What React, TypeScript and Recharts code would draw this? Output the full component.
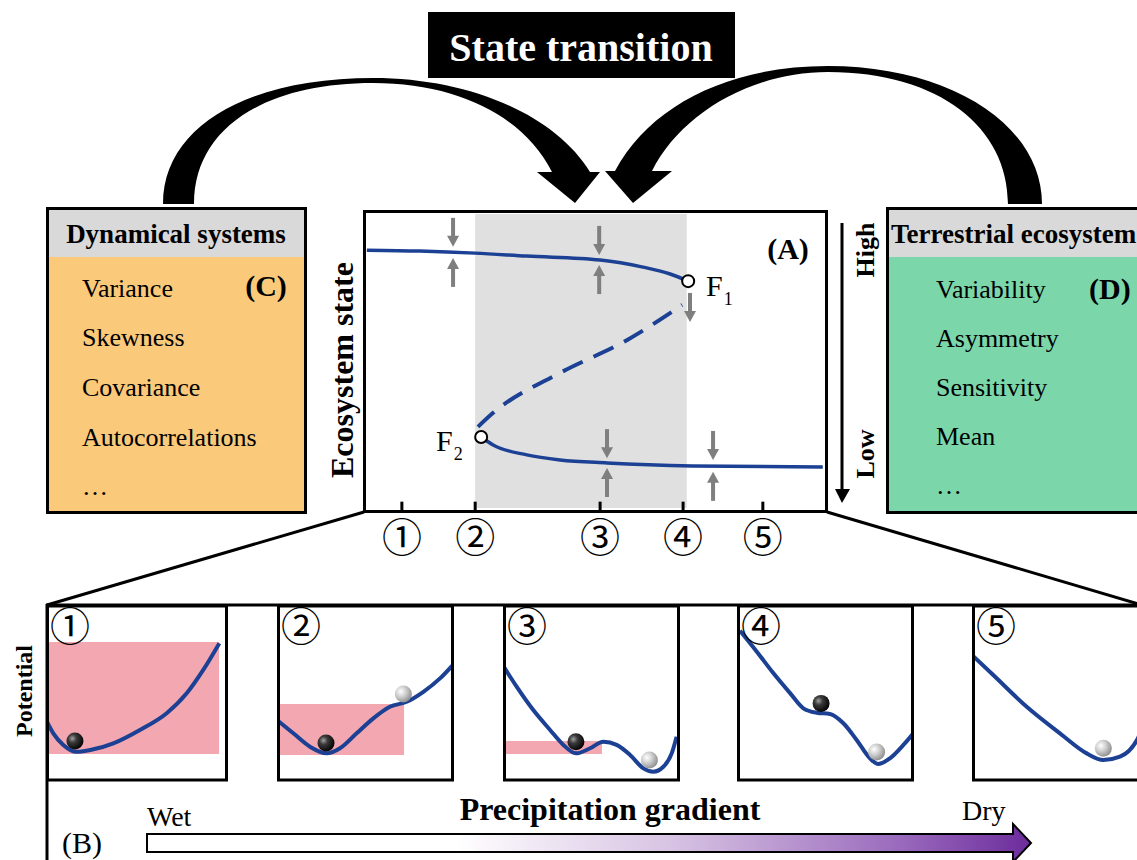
import React from 'react';
import {
  ComposedChart,
  Line,
  XAxis,
  YAxis,
  ReferenceArea,
  ReferenceDot,
  ReferenceLine,
  Scatter,
} from 'recharts';

const FONT = "'Liberation Serif','Times New Roman',serif";
const CIRCLED_FONT = "'Liberation Serif','Noto Sans CJK JP',serif";
const BLUE = '#1c4194';

// ---------- Panel (A): bifurcation diagram ----------
const upperBranch = [
  { x: 0.4, y: 87.2 },
  { x: 11.9, y: 86.9 },
  { x: 23.9, y: 86.2 },
  { x: 35.1, y: 85.2 },
  { x: 51.0, y: 83.9 },
  { x: 60.3, y: 81.5 },
  { x: 66.2, y: 79.2 },
  { x: 70.1, y: 76.8 },
];
const unstableBranch = [
  { x: 24.5, y: 27.9 },
  { x: 27.8, y: 32.6 },
  { x: 42.3, y: 46.0 },
  { x: 56.8, y: 57.0 },
  { x: 68.8, y: 68.8 },
];
const lowerBranch = [
  { x: 25.2, y: 24.5 },
  { x: 27.8, y: 21.8 },
  { x: 35.1, y: 18.5 },
  { x: 42.3, y: 16.8 },
  { x: 52.5, y: 15.8 },
  { x: 71.1, y: 14.8 },
  { x: 99.3, y: 14.4 },
];
const bistableRange = [23.9, 69.8];
const foldPoints = [
  { x: 70.1, y: 76.8, name: 'F1' },
  { x: 25.2, y: 24.5, name: 'F2' },
];
const stabilityArrows = [
  { x: 19.1, y: 88.3, dir: 'down' },
  { x: 19.1, y: 84.6, dir: 'up' },
  { x: 50.8, y: 85.6, dir: 'down' },
  { x: 50.8, y: 82.2, dir: 'up' },
  { x: 70.5, y: 63.1, dir: 'down' },
  { x: 52.5, y: 17.4, dir: 'down' },
  { x: 52.5, y: 14.1, dir: 'up' },
  { x: 75.5, y: 16.8, dir: 'down' },
  { x: 75.5, y: 12.8, dir: 'up' },
];
const stateTicks = [8, 23.9, 51, 69, 86.3];
const stateTickLabels = ['①', '②', '③', '④', '⑤'];

// ---------- Panel (C) and (D) ----------
const dynamicalItems = ['Variance', 'Skewness', 'Covariance', 'Autocorrelations', '…'];
const terrestrialItems = ['Variability', 'Asymmetry', 'Sensitivity', 'Mean', '…'];

// ---------- Panel (B): potential landscapes ----------
const panel1Curve = [
  { x: 0, y: 34.7 }, { x: 4.0, y: 27.1 }, { x: 9.5, y: 20.5 }, { x: 16.8, y: 16.6 },
  { x: 26.0, y: 18.0 }, { x: 37.0, y: 21.4 }, { x: 51.6, y: 29.0 }, { x: 66.3, y: 38.5 },
  { x: 77.3, y: 49.8 }, { x: 86.4, y: 63.1 }, { x: 95.2, y: 78.2 },
];
const panel1Dark = [{ x: 15.9, y: 22.7 }];
const panel1Light: { x: number; y: number }[] = [];
const panel1Basin = [1.1, 95.1, 15.3, 79.0];

const panel2Curve = [
  { x: 0.7, y: 34.1 }, { x: 9.2, y: 27.1 }, { x: 18.6, y: 19.5 }, { x: 28.1, y: 15.7 },
  { x: 35.6, y: 18.6 }, { x: 45.0, y: 27.1 }, { x: 54.4, y: 35.6 }, { x: 63.8, y: 42.2 },
  { x: 73.3, y: 45.0 }, { x: 82.7, y: 50.7 }, { x: 92.1, y: 58.3 }, { x: 99.3, y: 65.9 },
];
const panel2Dark = [{ x: 27.7, y: 21.6 }];
const panel2Light = [{ x: 71.4, y: 49.4 }];
const panel2Basin = [1.1, 71.8, 14.8, 43.8];

const panel3Curve = [
  { x: 0.2, y: 65.3 }, { x: 7.7, y: 53.6 }, { x: 17.1, y: 40.3 }, { x: 26.6, y: 29.0 },
  { x: 34.1, y: 20.5 }, { x: 41.2, y: 15.7 }, { x: 49.2, y: 18.6 }, { x: 56.7, y: 22.3 },
  { x: 64.2, y: 20.5 }, { x: 71.8, y: 14.8 }, { x: 79.3, y: 7.2 }, { x: 84.9, y: 5.3 },
  { x: 90.6, y: 8.1 }, { x: 95.3, y: 15.7 }, { x: 98.1, y: 25.2 },
];
const panel3Dark = [{ x: 41.2, y: 22.3 }];
const panel3Light = [{ x: 82.7, y: 11.9 }];
const panel3Basin = [1.7, 55.9, 15.3, 22.7];

const panel4Curve = [
  { x: 1.7, y: 85.4 }, { x: 11.2, y: 73.5 }, { x: 20.6, y: 61.2 }, { x: 30.1, y: 49.8 },
  { x: 37.5, y: 41.3 }, { x: 45.0, y: 38.8 }, { x: 52.5, y: 38.1 }, { x: 60.1, y: 32.8 },
  { x: 67.6, y: 23.3 }, { x: 75.1, y: 12.9 }, { x: 79.8, y: 9.7 }, { x: 86.4, y: 12.9 },
  { x: 94.0, y: 20.5 }, { x: 99.3, y: 26.7 },
];
const panel4Dark = [{ x: 47.5, y: 44.1 }];
const panel4Light = [{ x: 78.9, y: 16.5 }];

const panel5Curve = [
  { x: 0, y: 71.6 }, { x: 12.0, y: 60.2 }, { x: 30.9, y: 42.2 }, { x: 49.7, y: 27.1 },
  { x: 64.8, y: 15.7 }, { x: 74.2, y: 11.9 }, { x: 83.6, y: 13.8 }, { x: 93.2, y: 23.3 },
  { x: 100, y: 40.0 },
];
const panel5Dark: { x: number; y: number }[] = [];
const panel5Light = [{ x: 74.2, y: 18.6 }];

const panelLabels = ['①', '②', '③', '④', '⑤'];

const panels = [
  { curve: panel1Curve, dark: panel1Dark, light: panel1Light, basin: panel1Basin },
  { curve: panel2Curve, dark: panel2Dark, light: panel2Light, basin: panel2Basin },
  { curve: panel3Curve, dark: panel3Dark, light: panel3Light, basin: panel3Basin },
  { curve: panel4Curve, dark: panel4Dark, light: panel4Light, basin: null },
  { curve: panel5Curve, dark: panel5Dark, light: panel5Light, basin: null },
];

// layout (positions in page pixels)
const panelBoxes = [
  { left: 46, width: 182 },
  { left: 277, width: 177 },
  { left: 503, width: 177 },
  { left: 737, width: 177 },
  { left: 972, width: 177 },
];
const PANEL_TOP = 605;
const PANEL_H = 176;

const StabilityArrow = (props: any) => {
  const { cx, cy, dir } = props;
  const len = 29;
  if (dir === 'down') {
    return (
      <g>
        <line x1={cx} y1={cy - len} x2={cx} y2={cy - 9} stroke="#7f7f7f" strokeWidth={4} />
        <polygon points={`${cx - 6},${cy - 11} ${cx + 6},${cy - 11} ${cx},${cy}`} fill="#7f7f7f" />
      </g>
    );
  }
  return (
    <g>
      <line x1={cx} y1={cy + len} x2={cx} y2={cy + 9} stroke="#7f7f7f" strokeWidth={4} />
      <polygon points={`${cx - 6},${cy + 11} ${cx + 6},${cy + 11} ${cx},${cy}`} fill="#7f7f7f" />
    </g>
  );
};

const StateTick = (props: any) => {
  const { x, y, index } = props;
  return (
    <text
      x={x}
      y={y + 20}
      textAnchor="middle"
      dominantBaseline="central"
      fontSize={40}
      fontFamily={CIRCLED_FONT}
      fill="#000"
    >
      {stateTickLabels[index]}
    </text>
  );
};

const Ball = (fill: string) => (props: any) => (
  <circle cx={props.cx} cy={props.cy} r={8.5} fill={fill} />
);

const MainChart = () => (
  <div style={{ position: 'absolute', left: 300, top: 180 }}>
    <ComposedChart width={560} height={390} margin={{ top: 32, right: 34, bottom: 20, left: 65 }}>
      <XAxis
        type="number"
        dataKey="x"
        domain={[0, 100]}
        ticks={stateTicks}
        tick={<StateTick />}
        tickLine={false}
        axisLine={false}
        height={40}
        interval={0}
      />
      <YAxis type="number" dataKey="y" domain={[0, 100]} hide />
      <ReferenceArea
        x1={bistableRange[0]}
        x2={bistableRange[1]}
        y1={0.7}
        y2={99.3}
        fill="#e0e0e0"
        fillOpacity={1}
        stroke="none"
      />
      {stateTicks.map((t) => (
        <ReferenceLine
          key={t}
          segment={[{ x: t, y: 0 }, { x: t, y: 2.8 }]}
          stroke="#000"
          strokeWidth={3}
        />
      ))}
      <Line data={upperBranch} dataKey="y" type="monotone" stroke={BLUE} strokeWidth={3.5} dot={false} isAnimationActive={false} />
      <Line data={unstableBranch} dataKey="y" type="monotone" stroke={BLUE} strokeWidth={4} strokeDasharray="22 12" dot={false} isAnimationActive={false} />
      <Line data={lowerBranch} dataKey="y" type="monotone" stroke={BLUE} strokeWidth={3.5} dot={false} isAnimationActive={false} />
      {stabilityArrows.map((a, i) => (
        <ReferenceDot key={i} x={a.x} y={a.y} r={1} shape={(p: any) => <StabilityArrow {...p} dir={a.dir} />} />
      ))}
      {foldPoints.map((f) => (
        <ReferenceDot key={f.name} x={f.x} y={f.y} r={6} fill="#fff" stroke="#000" strokeWidth={2} />
      ))}
    </ComposedChart>
  </div>
);

const PotentialPanel = ({ idx }: { idx: number }) => {
  const p = panels[idx];
  const box = panelBoxes[idx];
  return (
    <div style={{ position: 'absolute', left: box.left, top: PANEL_TOP }}>
      <ComposedChart width={box.width} height={PANEL_H} margin={{ top: 0, right: 0, bottom: 0, left: 0 }}>
        <XAxis type="number" dataKey="x" domain={[0, 100]} hide />
        <YAxis type="number" dataKey="y" domain={[0, 100]} hide />
        {p.basin && (
          <ReferenceArea
            x1={p.basin[0]}
            x2={p.basin[1]}
            y1={p.basin[2]}
            y2={p.basin[3]}
            fill="#f3a7b1"
            fillOpacity={1}
            stroke="none"
          />
        )}
        <Line data={p.curve} dataKey="y" type="monotone" stroke={BLUE} strokeWidth={4} dot={false} isAnimationActive={false} />
        <Scatter data={p.dark} dataKey="y" shape={Ball('url(#ballDark)')} isAnimationActive={false} />
        <Scatter data={p.light} dataKey="y" shape={Ball('url(#ballLight)')} isAnimationActive={false} />
      </ComposedChart>
    </div>
  );
};

const leftArrowPath =
  'M 163,204 C 163,125 250,78 373,78 C 470,78 555,115 590,172 L 600,172 L 575,203 L 537,172 L 552,172 C 525,118 460,83 373,83 C 265,83 194,128 194,204 Z';
const rightArrowPath =
  'M 1042,204 C 1042,125 950,66 828,66 C 730,66 650,105 615,171 L 605,171 L 633,203 L 672,171 L 652,171 C 680,115 750,72 828,72 C 940,72 1008,128 1008,204 Z';

const Overlay = () => (
  <svg
    width={1137}
    height={860}
    style={{ position: 'absolute', left: 0, top: 0, pointerEvents: 'none' }}
    fontFamily={FONT}
  >
    <defs>
      <linearGradient id="precip" x1="0" y1="0" x2="1" y2="0">
        <stop offset="0" stopColor="#ffffff" />
        <stop offset="0.35" stopColor="#ffffff" />
        <stop offset="0.6" stopColor="#d6c1e2" />
        <stop offset="0.85" stopColor="#9a6bbd" />
        <stop offset="1" stopColor="#6c2c9c" />
      </linearGradient>
    </defs>

    {/* State transition title */}
    <rect x={428} y={12} width={307} height={66} fill="#000" />
    <text x={581} y={47} fill="#fff" fontSize={40} fontWeight="bold" textAnchor="middle" dominantBaseline="central">
      State transition
    </text>
    <path d={leftArrowPath} fill="#000" />
    <path d={rightArrowPath} fill="#000" />

    {/* Box C */}
    <rect x={47.5} y={208.5} width={258} height={304} fill="#fbc97a" stroke="#000" strokeWidth={3} />
    <rect x={49} y={210} width={255} height={47} fill="#d9d9d9" />
    <text x={176} y={234} fontSize={27} fontWeight="bold" textAnchor="middle" dominantBaseline="central">
      Dynamical systems
    </text>
    {dynamicalItems.map((t, i) => (
      <text key={t} x={82} y={288 + i * 49.7} fontSize={26} dominantBaseline="central">
        {t}
      </text>
    ))}
    <text x={266} y={285} fontSize={30} fontWeight="bold" textAnchor="middle" dominantBaseline="central">
      (C)
    </text>

    {/* Box D */}
    <rect x={887.5} y={208.5} width={300} height={304} fill="#7bd6aa" stroke="#000" strokeWidth={3} />
    <rect x={889} y={210} width={297} height={47} fill="#d9d9d9" />
    <text x={891} y={234} fontSize={27} fontWeight="bold" dominantBaseline="central">
      Terrestrial ecosystem
    </text>
    {terrestrialItems.map((t, i) => (
      <text key={t} x={936} y={289 + i * 49} fontSize={26} dominantBaseline="central">
        {t}
      </text>
    ))}
    <text x={1089} y={288} fontSize={30} fontWeight="bold" dominantBaseline="central">
      (D)
    </text>

    {/* Main chart frame and labels */}
    <rect x={364.5} y={211.5} width={462} height={300} fill="none" stroke="#000" strokeWidth={3} />
    <text transform="translate(342,370) rotate(-90)" fontSize={32} fontWeight="bold" textAnchor="middle" dominantBaseline="central">
      Ecosystem state
    </text>
    <text x={788} y={248} fontSize={30} fontWeight="bold" textAnchor="middle" dominantBaseline="central">
      (A)
    </text>
    <text x={706} y={296} fontSize={30}>
      F<tspan fontSize={18} dx={1} dy={9}>1</tspan>
    </text>
    <text x={436} y={451} fontSize={30}>
      F<tspan fontSize={18} dx={1} dy={9}>2</tspan>
    </text>

    {/* High / Low arrow */}
    <line x1={842} y1={223} x2={842} y2={492} stroke="#000" strokeWidth={3} />
    <polygon points="835,489 850,489 842,503" fill="#000" />
    <text transform="translate(865,250) rotate(-90)" fontSize={26} fontWeight="bold" textAnchor="middle" dominantBaseline="central">
      High
    </text>
    <text transform="translate(865,454) rotate(-90)" fontSize={26} fontWeight="bold" textAnchor="middle" dominantBaseline="central">
      Low
    </text>

    {/* zoom lines */}
    <line x1={364} y1={512} x2={47} y2={605} stroke="#000" strokeWidth={3} />
    <line x1={827} y1={512} x2={1137} y2={603.5} stroke="#000" strokeWidth={3} />

    {/* Panel B frame */}
    <line x1={46} y1={605} x2={1137} y2={605} stroke="#000" strokeWidth={3} />
    <line x1={47} y1={604} x2={47} y2={860} stroke="#000" strokeWidth={3} />
    {panelBoxes.map((b, i) => (
      <rect key={i} x={b.left + 1.5} y={PANEL_TOP + 1} width={b.width - 3} height={PANEL_H - 2} fill="none" stroke="#000" strokeWidth={3} />
    ))}
    {panelLabels.map((l, i) => (
      <text
        key={l}
        x={panelBoxes[i].left + 24}
        y={627}
        fontSize={40}
        fontFamily={CIRCLED_FONT}
        textAnchor="middle"
        dominantBaseline="central"
      >
        {l}
      </text>
    ))}
    <text transform="translate(24,691) rotate(-90)" fontSize={24} fontWeight="bold" textAnchor="middle" dominantBaseline="central">
      Potential
    </text>

    {/* precipitation gradient */}
    <text x={82} y={842} fontSize={30} textAnchor="middle" dominantBaseline="central">
      (B)
    </text>
    <text x={147} y={826} fontSize={28}>
      Wet
    </text>
    <text x={610} y={820} fontSize={32} fontWeight="bold" textAnchor="middle">
      Precipitation gradient
    </text>
    <text x={962} y={820} fontSize={28}>
      Dry
    </text>
    <polygon
      points="147,834 1013,834 1013,824 1031,843 1013,862 1013,852 147,852"
      fill="url(#precip)"
      stroke="#000"
      strokeWidth={2}
    />
  </svg>
);

export default function App() {
  return (
    <div
      style={{
        position: 'absolute',
        left: 0,
        top: 0,
        width: 1137,
        height: 860,
        overflow: 'hidden',
        background: '#fff',
        fontFamily: FONT,
      }}
    >
      <svg width={0} height={0} style={{ position: 'absolute' }}>
        <defs>
          <radialGradient id="ballDark" cx="0.35" cy="0.35" r="0.7">
            <stop offset="0" stopColor="#a0a0a0" />
            <stop offset="0.35" stopColor="#3a3a3a" />
            <stop offset="1" stopColor="#000" />
          </radialGradient>
          <radialGradient id="ballLight" cx="0.35" cy="0.35" r="0.7">
            <stop offset="0" stopColor="#ffffff" />
            <stop offset="0.45" stopColor="#cfcfcf" />
            <stop offset="1" stopColor="#8c8c8c" />
          </radialGradient>
        </defs>
      </svg>
      <MainChart />
      {panels.map((_, i) => (
        <PotentialPanel key={i} idx={i} />
      ))}
      <Overlay />
    </div>
  );
}
